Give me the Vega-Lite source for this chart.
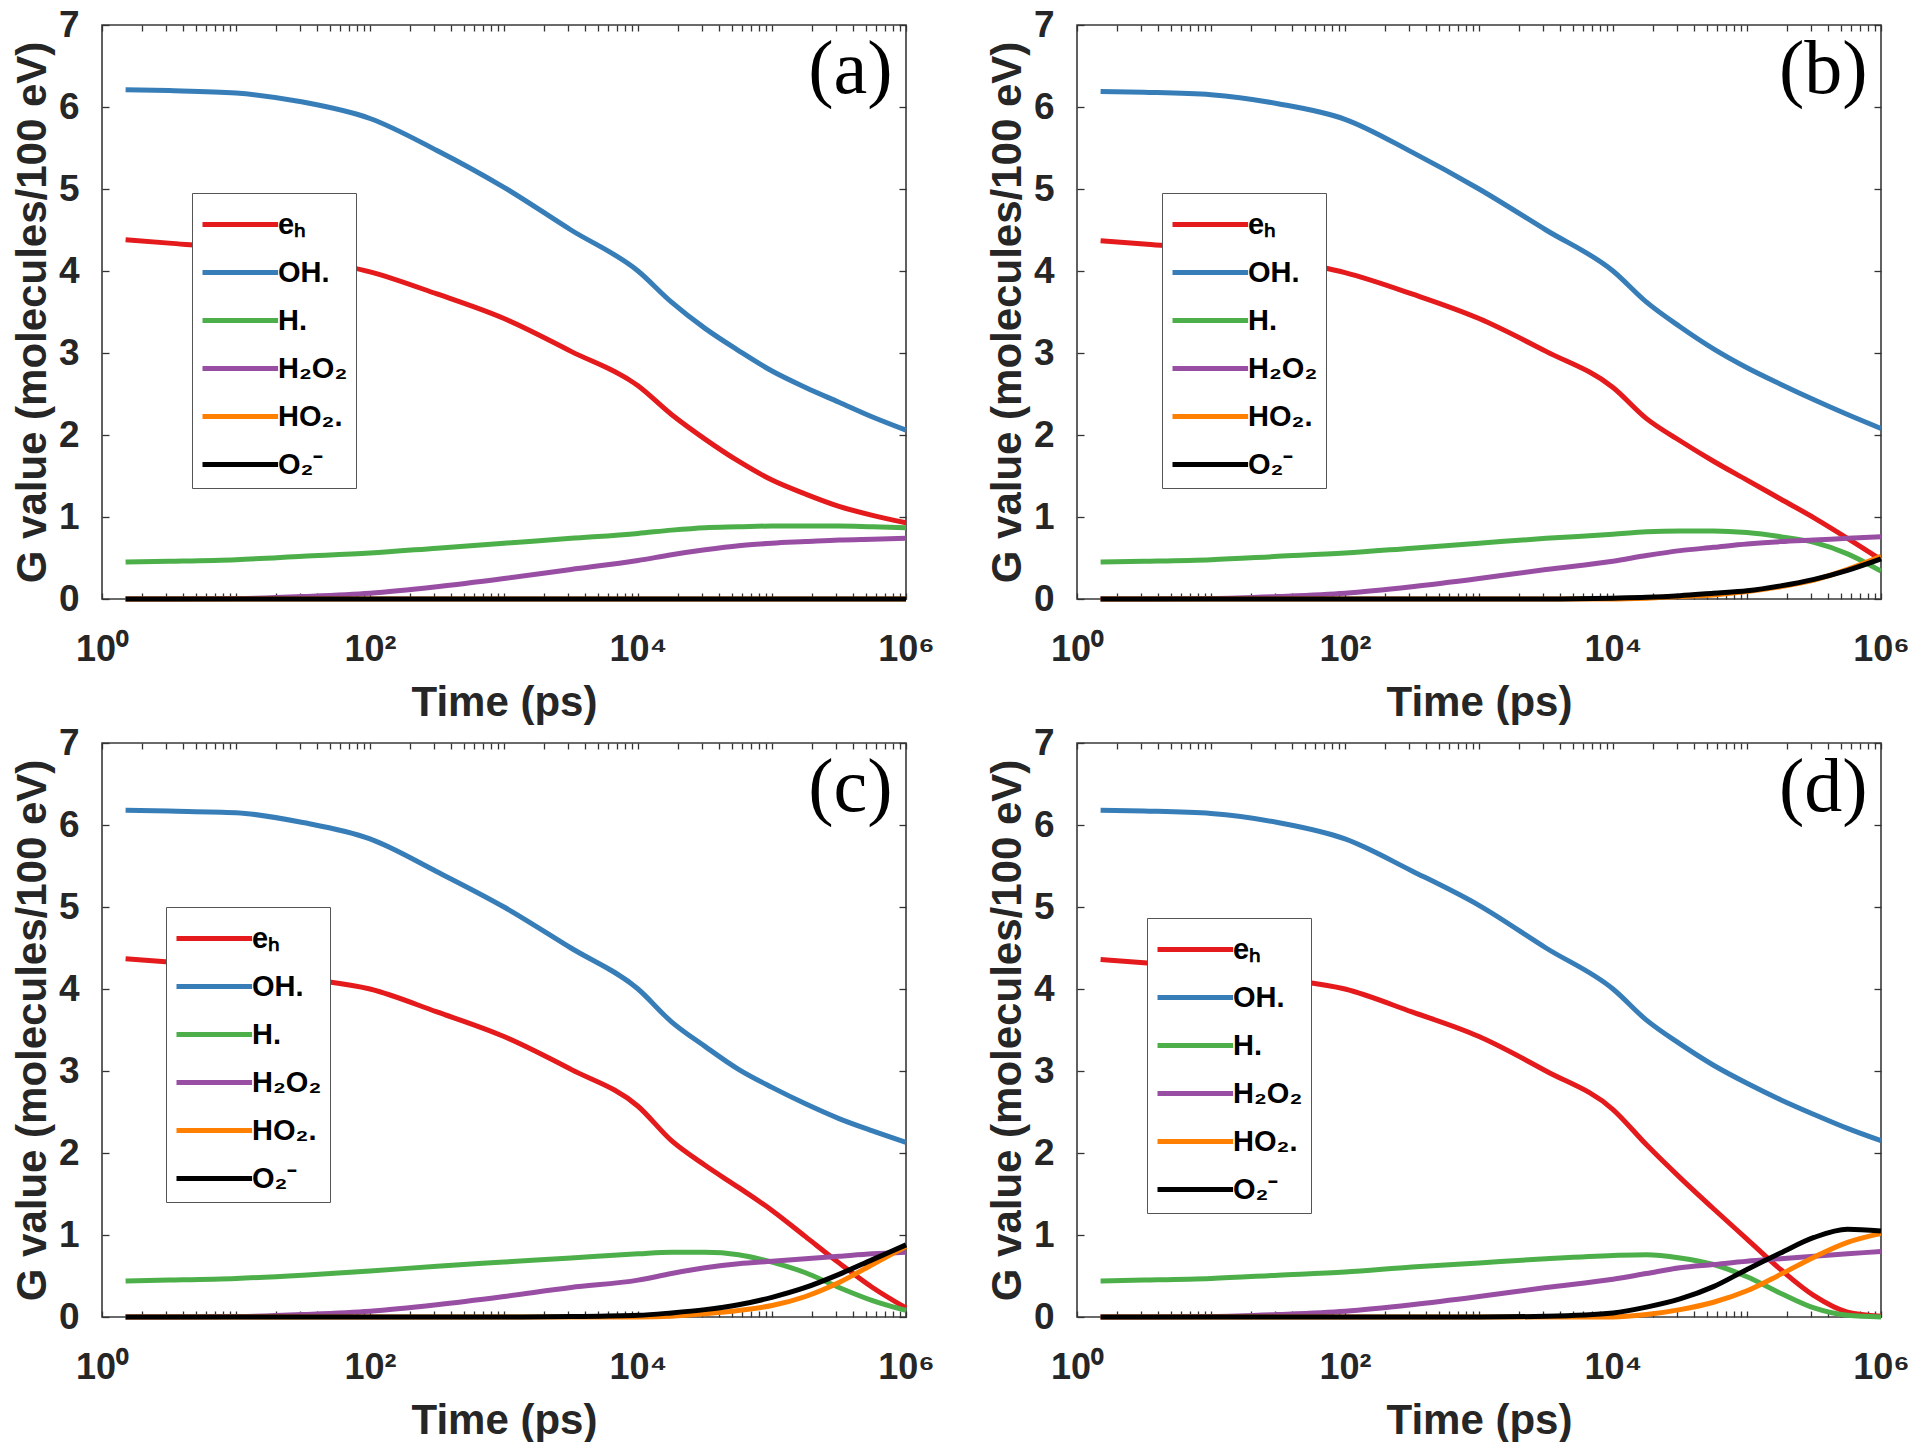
{
"$schema": "https://vega.github.io/schema/vega-lite/v6.json",
"background": "white",
"padding": {"left": 10, "top": 5, "right": 0, "bottom": 0},
"config": {"view": {"stroke": "#3a3a3a", "strokeWidth": 1.6}, "font": "Liberation Sans"},
"datasets": {"curves": [
{"p":"a","s":"eₕ","t":1.5,"g":4.38},{"p":"a","s":"eₕ","t":3.16,"g":4.34},{"p":"a","s":"eₕ","t":10,"g":4.27},{"p":"a","s":"eₕ","t":31.6,"g":4.15},{"p":"a","s":"eₕ","t":100,"g":3.99},{"p":"a","s":"eₕ","t":316,"g":3.72},{"p":"a","s":"eₕ","t":1000,"g":3.42},{"p":"a","s":"eₕ","t":3162,"g":3.02},{"p":"a","s":"eₕ","t":10000,"g":2.6},{"p":"a","s":"eₕ","t":17783,"g":2.25},{"p":"a","s":"eₕ","t":31623,"g":1.95},{"p":"a","s":"eₕ","t":56234,"g":1.68},{"p":"a","s":"eₕ","t":100000,"g":1.45},{"p":"a","s":"eₕ","t":177828,"g":1.28},{"p":"a","s":"eₕ","t":316228,"g":1.13},{"p":"a","s":"eₕ","t":562341,"g":1.02},{"p":"a","s":"eₕ","t":1000000,"g":0.93},
{"p":"a","s":"OH.","t":1.5,"g":6.21},{"p":"a","s":"OH.","t":3.16,"g":6.2},{"p":"a","s":"OH.","t":10,"g":6.17},{"p":"a","s":"OH.","t":31.6,"g":6.06},{"p":"a","s":"OH.","t":100,"g":5.86},{"p":"a","s":"OH.","t":316,"g":5.47},{"p":"a","s":"OH.","t":1000,"g":5.02},{"p":"a","s":"OH.","t":3162,"g":4.5},{"p":"a","s":"OH.","t":10000,"g":4.0},{"p":"a","s":"OH.","t":17783,"g":3.62},{"p":"a","s":"OH.","t":31623,"g":3.3},{"p":"a","s":"OH.","t":56234,"g":3.03},{"p":"a","s":"OH.","t":100000,"g":2.78},{"p":"a","s":"OH.","t":177828,"g":2.58},{"p":"a","s":"OH.","t":316228,"g":2.4},{"p":"a","s":"OH.","t":562341,"g":2.22},{"p":"a","s":"OH.","t":1000000,"g":2.06},
{"p":"a","s":"H.","t":1.5,"g":0.45},{"p":"a","s":"H.","t":3.16,"g":0.46},{"p":"a","s":"H.","t":10,"g":0.48},{"p":"a","s":"H.","t":31.6,"g":0.52},{"p":"a","s":"H.","t":100,"g":0.56},{"p":"a","s":"H.","t":316,"g":0.62},{"p":"a","s":"H.","t":1000,"g":0.68},{"p":"a","s":"H.","t":3162,"g":0.74},{"p":"a","s":"H.","t":10000,"g":0.8},{"p":"a","s":"H.","t":17783,"g":0.84},{"p":"a","s":"H.","t":31623,"g":0.87},{"p":"a","s":"H.","t":56234,"g":0.88},{"p":"a","s":"H.","t":100000,"g":0.89},{"p":"a","s":"H.","t":177828,"g":0.89},{"p":"a","s":"H.","t":316228,"g":0.89},{"p":"a","s":"H.","t":562341,"g":0.88},{"p":"a","s":"H.","t":1000000,"g":0.87},
{"p":"a","s":"H₂O₂","t":1.5,"g":0},{"p":"a","s":"H₂O₂","t":3.16,"g":0},{"p":"a","s":"H₂O₂","t":10,"g":0.005},{"p":"a","s":"H₂O₂","t":31.6,"g":0.03},{"p":"a","s":"H₂O₂","t":100,"g":0.07},{"p":"a","s":"H₂O₂","t":316,"g":0.15},{"p":"a","s":"H₂O₂","t":1000,"g":0.25},{"p":"a","s":"H₂O₂","t":3162,"g":0.36},{"p":"a","s":"H₂O₂","t":10000,"g":0.47},{"p":"a","s":"H₂O₂","t":17783,"g":0.54},{"p":"a","s":"H₂O₂","t":31623,"g":0.6},{"p":"a","s":"H₂O₂","t":56234,"g":0.65},{"p":"a","s":"H₂O₂","t":100000,"g":0.68},{"p":"a","s":"H₂O₂","t":177828,"g":0.7},{"p":"a","s":"H₂O₂","t":316228,"g":0.72},{"p":"a","s":"H₂O₂","t":562341,"g":0.73},{"p":"a","s":"H₂O₂","t":1000000,"g":0.74},
{"p":"a","s":"HO₂.","t":1.5,"g":0},{"p":"a","s":"HO₂.","t":1000,"g":0},{"p":"a","s":"HO₂.","t":1000000,"g":0},
{"p":"a","s":"O₂⁻","t":1.5,"g":0},{"p":"a","s":"O₂⁻","t":1000,"g":0},{"p":"a","s":"O₂⁻","t":1000000,"g":0},
{"p":"b","s":"eₕ","t":1.5,"g":4.37},{"p":"b","s":"eₕ","t":3.16,"g":4.33},{"p":"b","s":"eₕ","t":10,"g":4.26},{"p":"b","s":"eₕ","t":31.6,"g":4.14},{"p":"b","s":"eₕ","t":100,"g":3.98},{"p":"b","s":"eₕ","t":316,"g":3.72},{"p":"b","s":"eₕ","t":1000,"g":3.42},{"p":"b","s":"eₕ","t":3162,"g":3.02},{"p":"b","s":"eₕ","t":10000,"g":2.58},{"p":"b","s":"eₕ","t":17783,"g":2.2},{"p":"b","s":"eₕ","t":31623,"g":1.93},{"p":"b","s":"eₕ","t":56234,"g":1.68},{"p":"b","s":"eₕ","t":100000,"g":1.45},{"p":"b","s":"eₕ","t":177828,"g":1.22},{"p":"b","s":"eₕ","t":316228,"g":0.99},{"p":"b","s":"eₕ","t":562341,"g":0.74},{"p":"b","s":"eₕ","t":1000000,"g":0.48},
{"p":"b","s":"OH.","t":1.5,"g":6.19},{"p":"b","s":"OH.","t":3.16,"g":6.18},{"p":"b","s":"OH.","t":10,"g":6.15},{"p":"b","s":"OH.","t":31.6,"g":6.04},{"p":"b","s":"OH.","t":100,"g":5.85},{"p":"b","s":"OH.","t":316,"g":5.45},{"p":"b","s":"OH.","t":1000,"g":5.0},{"p":"b","s":"OH.","t":3162,"g":4.5},{"p":"b","s":"OH.","t":10000,"g":4.0},{"p":"b","s":"OH.","t":17783,"g":3.62},{"p":"b","s":"OH.","t":31623,"g":3.32},{"p":"b","s":"OH.","t":56234,"g":3.05},{"p":"b","s":"OH.","t":100000,"g":2.82},{"p":"b","s":"OH.","t":177828,"g":2.62},{"p":"b","s":"OH.","t":316228,"g":2.43},{"p":"b","s":"OH.","t":562341,"g":2.25},{"p":"b","s":"OH.","t":1000000,"g":2.08},
{"p":"b","s":"H.","t":1.5,"g":0.45},{"p":"b","s":"H.","t":3.16,"g":0.46},{"p":"b","s":"H.","t":10,"g":0.48},{"p":"b","s":"H.","t":31.6,"g":0.52},{"p":"b","s":"H.","t":100,"g":0.56},{"p":"b","s":"H.","t":316,"g":0.62},{"p":"b","s":"H.","t":1000,"g":0.68},{"p":"b","s":"H.","t":3162,"g":0.74},{"p":"b","s":"H.","t":10000,"g":0.79},{"p":"b","s":"H.","t":17783,"g":0.82},{"p":"b","s":"H.","t":31623,"g":0.83},{"p":"b","s":"H.","t":56234,"g":0.83},{"p":"b","s":"H.","t":100000,"g":0.81},{"p":"b","s":"H.","t":177828,"g":0.76},{"p":"b","s":"H.","t":316228,"g":0.69},{"p":"b","s":"H.","t":562341,"g":0.55},{"p":"b","s":"H.","t":1000000,"g":0.34},
{"p":"b","s":"H₂O₂","t":1.5,"g":0},{"p":"b","s":"H₂O₂","t":3.16,"g":0},{"p":"b","s":"H₂O₂","t":10,"g":0.005},{"p":"b","s":"H₂O₂","t":31.6,"g":0.03},{"p":"b","s":"H₂O₂","t":100,"g":0.07},{"p":"b","s":"H₂O₂","t":316,"g":0.15},{"p":"b","s":"H₂O₂","t":1000,"g":0.25},{"p":"b","s":"H₂O₂","t":3162,"g":0.36},{"p":"b","s":"H₂O₂","t":10000,"g":0.46},{"p":"b","s":"H₂O₂","t":17783,"g":0.53},{"p":"b","s":"H₂O₂","t":31623,"g":0.59},{"p":"b","s":"H₂O₂","t":56234,"g":0.63},{"p":"b","s":"H₂O₂","t":100000,"g":0.67},{"p":"b","s":"H₂O₂","t":177828,"g":0.7},{"p":"b","s":"H₂O₂","t":316228,"g":0.72},{"p":"b","s":"H₂O₂","t":562341,"g":0.74},{"p":"b","s":"H₂O₂","t":1000000,"g":0.76},
{"p":"b","s":"HO₂.","t":1.5,"g":0},{"p":"b","s":"HO₂.","t":1000,"g":0},{"p":"b","s":"HO₂.","t":10000,"g":0},{"p":"b","s":"HO₂.","t":17783,"g":0.01},{"p":"b","s":"HO₂.","t":31623,"g":0.03},{"p":"b","s":"HO₂.","t":56234,"g":0.05},{"p":"b","s":"HO₂.","t":100000,"g":0.09},{"p":"b","s":"HO₂.","t":177828,"g":0.15},{"p":"b","s":"HO₂.","t":316228,"g":0.23},{"p":"b","s":"HO₂.","t":562341,"g":0.36},{"p":"b","s":"HO₂.","t":1000000,"g":0.52},
{"p":"b","s":"O₂⁻","t":1.5,"g":0},{"p":"b","s":"O₂⁻","t":1000,"g":0},{"p":"b","s":"O₂⁻","t":3162,"g":0},{"p":"b","s":"O₂⁻","t":10000,"g":0.01},{"p":"b","s":"O₂⁻","t":17783,"g":0.02},{"p":"b","s":"O₂⁻","t":31623,"g":0.04},{"p":"b","s":"O₂⁻","t":56234,"g":0.07},{"p":"b","s":"O₂⁻","t":100000,"g":0.1},{"p":"b","s":"O₂⁻","t":177828,"g":0.16},{"p":"b","s":"O₂⁻","t":316228,"g":0.24},{"p":"b","s":"O₂⁻","t":562341,"g":0.35},{"p":"b","s":"O₂⁻","t":1000000,"g":0.49},
{"p":"c","s":"eₕ","t":1.5,"g":4.37},{"p":"c","s":"eₕ","t":3.16,"g":4.33},{"p":"c","s":"eₕ","t":10,"g":4.25},{"p":"c","s":"eₕ","t":31.6,"g":4.13},{"p":"c","s":"eₕ","t":100,"g":4.0},{"p":"c","s":"eₕ","t":316,"g":3.72},{"p":"c","s":"eₕ","t":1000,"g":3.42},{"p":"c","s":"eₕ","t":3162,"g":3.02},{"p":"c","s":"eₕ","t":10000,"g":2.57},{"p":"c","s":"eₕ","t":17783,"g":2.15},{"p":"c","s":"eₕ","t":31623,"g":1.85},{"p":"c","s":"eₕ","t":56234,"g":1.58},{"p":"c","s":"eₕ","t":100000,"g":1.3},{"p":"c","s":"eₕ","t":177828,"g":0.98},{"p":"c","s":"eₕ","t":316228,"g":0.66},{"p":"c","s":"eₕ","t":562341,"g":0.36},{"p":"c","s":"eₕ","t":1000000,"g":0.11},
{"p":"c","s":"OH.","t":1.5,"g":6.18},{"p":"c","s":"OH.","t":3.16,"g":6.17},{"p":"c","s":"OH.","t":10,"g":6.15},{"p":"c","s":"OH.","t":31.6,"g":6.03},{"p":"c","s":"OH.","t":100,"g":5.83},{"p":"c","s":"OH.","t":316,"g":5.43},{"p":"c","s":"OH.","t":1000,"g":5.0},{"p":"c","s":"OH.","t":3162,"g":4.5},{"p":"c","s":"OH.","t":10000,"g":4.0},{"p":"c","s":"OH.","t":17783,"g":3.6},{"p":"c","s":"OH.","t":31623,"g":3.3},{"p":"c","s":"OH.","t":56234,"g":3.02},{"p":"c","s":"OH.","t":100000,"g":2.8},{"p":"c","s":"OH.","t":177828,"g":2.6},{"p":"c","s":"OH.","t":316228,"g":2.42},{"p":"c","s":"OH.","t":562341,"g":2.27},{"p":"c","s":"OH.","t":1000000,"g":2.13},
{"p":"c","s":"H.","t":1.5,"g":0.44},{"p":"c","s":"H.","t":3.16,"g":0.45},{"p":"c","s":"H.","t":10,"g":0.47},{"p":"c","s":"H.","t":31.6,"g":0.51},{"p":"c","s":"H.","t":100,"g":0.56},{"p":"c","s":"H.","t":316,"g":0.62},{"p":"c","s":"H.","t":1000,"g":0.67},{"p":"c","s":"H.","t":3162,"g":0.72},{"p":"c","s":"H.","t":10000,"g":0.77},{"p":"c","s":"H.","t":17783,"g":0.79},{"p":"c","s":"H.","t":31623,"g":0.79},{"p":"c","s":"H.","t":56234,"g":0.76},{"p":"c","s":"H.","t":100000,"g":0.67},{"p":"c","s":"H.","t":177828,"g":0.54},{"p":"c","s":"H.","t":316228,"g":0.36},{"p":"c","s":"H.","t":562341,"g":0.2},{"p":"c","s":"H.","t":1000000,"g":0.08},
{"p":"c","s":"H₂O₂","t":1.5,"g":0},{"p":"c","s":"H₂O₂","t":3.16,"g":0},{"p":"c","s":"H₂O₂","t":10,"g":0.005},{"p":"c","s":"H₂O₂","t":31.6,"g":0.03},{"p":"c","s":"H₂O₂","t":100,"g":0.07},{"p":"c","s":"H₂O₂","t":316,"g":0.15},{"p":"c","s":"H₂O₂","t":1000,"g":0.25},{"p":"c","s":"H₂O₂","t":3162,"g":0.36},{"p":"c","s":"H₂O₂","t":10000,"g":0.45},{"p":"c","s":"H₂O₂","t":17783,"g":0.53},{"p":"c","s":"H₂O₂","t":31623,"g":0.6},{"p":"c","s":"H₂O₂","t":56234,"g":0.65},{"p":"c","s":"H₂O₂","t":100000,"g":0.68},{"p":"c","s":"H₂O₂","t":177828,"g":0.71},{"p":"c","s":"H₂O₂","t":316228,"g":0.74},{"p":"c","s":"H₂O₂","t":562341,"g":0.77},{"p":"c","s":"H₂O₂","t":1000000,"g":0.79},
{"p":"c","s":"HO₂.","t":1.5,"g":0},{"p":"c","s":"HO₂.","t":1000,"g":0},{"p":"c","s":"HO₂.","t":10000,"g":0},{"p":"c","s":"HO₂.","t":17783,"g":0.01},{"p":"c","s":"HO₂.","t":31623,"g":0.04},{"p":"c","s":"HO₂.","t":56234,"g":0.08},{"p":"c","s":"HO₂.","t":100000,"g":0.14},{"p":"c","s":"HO₂.","t":177828,"g":0.25},{"p":"c","s":"HO₂.","t":316228,"g":0.42},{"p":"c","s":"HO₂.","t":562341,"g":0.64},{"p":"c","s":"HO₂.","t":1000000,"g":0.86},
{"p":"c","s":"O₂⁻","t":1.5,"g":0},{"p":"c","s":"O₂⁻","t":1000,"g":0},{"p":"c","s":"O₂⁻","t":3162,"g":0.005},{"p":"c","s":"O₂⁻","t":10000,"g":0.02},{"p":"c","s":"O₂⁻","t":17783,"g":0.05},{"p":"c","s":"O₂⁻","t":31623,"g":0.09},{"p":"c","s":"O₂⁻","t":56234,"g":0.15},{"p":"c","s":"O₂⁻","t":100000,"g":0.24},{"p":"c","s":"O₂⁻","t":177828,"g":0.36},{"p":"c","s":"O₂⁻","t":316228,"g":0.52},{"p":"c","s":"O₂⁻","t":562341,"g":0.7},{"p":"c","s":"O₂⁻","t":1000000,"g":0.88},
{"p":"d","s":"eₕ","t":1.5,"g":4.36},{"p":"d","s":"eₕ","t":3.16,"g":4.32},{"p":"d","s":"eₕ","t":10,"g":4.25},{"p":"d","s":"eₕ","t":31.6,"g":4.13},{"p":"d","s":"eₕ","t":100,"g":4.0},{"p":"d","s":"eₕ","t":316,"g":3.72},{"p":"d","s":"eₕ","t":1000,"g":3.42},{"p":"d","s":"eₕ","t":3162,"g":3.0},{"p":"d","s":"eₕ","t":10000,"g":2.53},{"p":"d","s":"eₕ","t":17783,"g":2.1},{"p":"d","s":"eₕ","t":31623,"g":1.7},{"p":"d","s":"eₕ","t":56234,"g":1.32},{"p":"d","s":"eₕ","t":100000,"g":0.95},{"p":"d","s":"eₕ","t":177828,"g":0.58},{"p":"d","s":"eₕ","t":316228,"g":0.26},{"p":"d","s":"eₕ","t":562341,"g":0.06},{"p":"d","s":"eₕ","t":1000000,"g":0.01},
{"p":"d","s":"OH.","t":1.5,"g":6.18},{"p":"d","s":"OH.","t":3.16,"g":6.17},{"p":"d","s":"OH.","t":10,"g":6.14},{"p":"d","s":"OH.","t":31.6,"g":6.03},{"p":"d","s":"OH.","t":100,"g":5.83},{"p":"d","s":"OH.","t":316,"g":5.44},{"p":"d","s":"OH.","t":1000,"g":5.02},{"p":"d","s":"OH.","t":3162,"g":4.5},{"p":"d","s":"OH.","t":10000,"g":4.0},{"p":"d","s":"OH.","t":17783,"g":3.62},{"p":"d","s":"OH.","t":31623,"g":3.33},{"p":"d","s":"OH.","t":56234,"g":3.07},{"p":"d","s":"OH.","t":100000,"g":2.85},{"p":"d","s":"OH.","t":177828,"g":2.65},{"p":"d","s":"OH.","t":316228,"g":2.47},{"p":"d","s":"OH.","t":562341,"g":2.3},{"p":"d","s":"OH.","t":1000000,"g":2.15},
{"p":"d","s":"H.","t":1.5,"g":0.44},{"p":"d","s":"H.","t":3.16,"g":0.45},{"p":"d","s":"H.","t":10,"g":0.47},{"p":"d","s":"H.","t":31.6,"g":0.51},{"p":"d","s":"H.","t":100,"g":0.55},{"p":"d","s":"H.","t":316,"g":0.61},{"p":"d","s":"H.","t":1000,"g":0.66},{"p":"d","s":"H.","t":3162,"g":0.71},{"p":"d","s":"H.","t":10000,"g":0.75},{"p":"d","s":"H.","t":17783,"g":0.76},{"p":"d","s":"H.","t":31623,"g":0.72},{"p":"d","s":"H.","t":56234,"g":0.64},{"p":"d","s":"H.","t":100000,"g":0.49},{"p":"d","s":"H.","t":177828,"g":0.29},{"p":"d","s":"H.","t":316228,"g":0.11},{"p":"d","s":"H.","t":562341,"g":0.02},{"p":"d","s":"H.","t":1000000,"g":0.0},
{"p":"d","s":"H₂O₂","t":1.5,"g":0},{"p":"d","s":"H₂O₂","t":3.16,"g":0},{"p":"d","s":"H₂O₂","t":10,"g":0.005},{"p":"d","s":"H₂O₂","t":31.6,"g":0.03},{"p":"d","s":"H₂O₂","t":100,"g":0.07},{"p":"d","s":"H₂O₂","t":316,"g":0.15},{"p":"d","s":"H₂O₂","t":1000,"g":0.25},{"p":"d","s":"H₂O₂","t":3162,"g":0.36},{"p":"d","s":"H₂O₂","t":10000,"g":0.46},{"p":"d","s":"H₂O₂","t":17783,"g":0.53},{"p":"d","s":"H₂O₂","t":31623,"g":0.6},{"p":"d","s":"H₂O₂","t":56234,"g":0.64},{"p":"d","s":"H₂O₂","t":100000,"g":0.68},{"p":"d","s":"H₂O₂","t":177828,"g":0.71},{"p":"d","s":"H₂O₂","t":316228,"g":0.74},{"p":"d","s":"H₂O₂","t":562341,"g":0.77},{"p":"d","s":"H₂O₂","t":1000000,"g":0.8},
{"p":"d","s":"HO₂.","t":1.5,"g":0},{"p":"d","s":"HO₂.","t":1000,"g":0},{"p":"d","s":"HO₂.","t":10000,"g":0},{"p":"d","s":"HO₂.","t":17783,"g":0.03},{"p":"d","s":"HO₂.","t":31623,"g":0.09},{"p":"d","s":"HO₂.","t":56234,"g":0.18},{"p":"d","s":"HO₂.","t":100000,"g":0.32},{"p":"d","s":"HO₂.","t":177828,"g":0.52},{"p":"d","s":"HO₂.","t":316228,"g":0.73},{"p":"d","s":"HO₂.","t":562341,"g":0.91},{"p":"d","s":"HO₂.","t":1000000,"g":1.02},
{"p":"d","s":"O₂⁻","t":1.5,"g":0},{"p":"d","s":"O₂⁻","t":1000,"g":0},{"p":"d","s":"O₂⁻","t":3162,"g":0.01},{"p":"d","s":"O₂⁻","t":10000,"g":0.05},{"p":"d","s":"O₂⁻","t":17783,"g":0.12},{"p":"d","s":"O₂⁻","t":31623,"g":0.22},{"p":"d","s":"O₂⁻","t":56234,"g":0.37},{"p":"d","s":"O₂⁻","t":100000,"g":0.58},{"p":"d","s":"O₂⁻","t":177828,"g":0.78},{"p":"d","s":"O₂⁻","t":316228,"g":0.97},{"p":"d","s":"O₂⁻","t":562341,"g":1.07},{"p":"d","s":"O₂⁻","t":1000000,"g":1.05}
]},
"columns": 2,
"spacing": {"row": 144, "column": 171},
"bounds": "flush",
"resolve": {"scale": {"color": "independent"}},
"concat": [
{"width": 804, "height": 574, "data": {"name": "curves"},
 "layer": [
  {"transform": [{"filter": "datum.p == 'a'"}],
   "mark": {"type": "line", "strokeWidth": 5, "interpolate": "monotone"},
   "encoding": {
    "x": {"field": "t", "type": "quantitative", "scale": {"type": "log", "domain": [1, 1000000], "nice": false},
      "axis": {"orient": "bottom", "values": [1,2,3,4,5,6,7,8,9,10,20,30,40,50,60,70,80,90,100,200,300,400,500,600,700,800,900,1000,2000,3000,4000,5000,6000,7000,8000,9000,10000,20000,30000,40000,50000,60000,70000,80000,90000,100000,200000,300000,400000,500000,600000,700000,800000,900000,1000000],
       "labelExpr": "datum.value == 1 ? '10⁰' : datum.value == 100 ? '10²' : datum.value == 10000 ? '10⁴' : datum.value == 1000000 ? '10⁶' : ''",
       "labelFontSize": 36, "labelFontWeight": "bold", "labelColor": "#262626", "labelPadding": 39, "labelFlush": false, "labelOverlap": false, "labelBound": false,
       "tickSize": -6, "tickColor": "#333333", "tickWidth": 1.3, "domain": false, "grid": false,
       "title": "Time (ps)", "titleFontSize": 42, "titleFontWeight": "bold", "titleColor": "#262626", "titlePadding": 23, "minExtent": 60, "maxExtent": 60}},
    "y": {"field": "g", "type": "quantitative", "scale": {"domain": [0, 7], "nice": false},
      "axis": {"orient": "left", "values": [0,1,2,3,4,5,6,7], "format": "d", "labelFontSize": 37, "labelFontWeight": "bold", "labelColor": "#262626", "labelPadding": 30,
       "tickSize": -7, "tickColor": "#333333", "tickWidth": 1.3, "domain": false, "grid": false,
       "title": "G value (molecules/100 eV)", "titleFontSize": 42, "titleFontWeight": "bold", "titleColor": "#262626", "titlePadding": 11, "minExtent": 37, "maxExtent": 37}},
    "color": {"field": "s", "type": "nominal",
      "scale": {"domain": ["eₕ","OH.","H.","H₂O₂","HO₂.","O₂⁻"], "range": ["#e41a1c","#377eb8","#4daf4a","#984ea3","#ff7f00","#000000"]},
      "legend": {"orient": "none", "legendX": 90, "legendY": 168, "title": null, "symbolType": "M-1,0H2.6", "symbolSize": 1764, "symbolStrokeWidth": 5, "rowPadding": 9, "labelOffset": 31, "labelFontSize": 29, "labelFontWeight": "bold", "labelColor": "black", "padding": 8, "strokeColor": "#555555", "fillColor": "white", "labelLimit": 0}}
   }},
  {"mark": {"type": "point", "opacity": 0},
   "encoding": {
    "x": {"field": "t", "type": "quantitative", "scale": {"type": "log", "domain": [1, 1000000], "nice": false},
      "axis": {"orient": "top", "values": [1,2,3,4,5,6,7,8,9,10,20,30,40,50,60,70,80,90,100,200,300,400,500,600,700,800,900,1000,2000,3000,4000,5000,6000,7000,8000,9000,10000,20000,30000,40000,50000,60000,70000,80000,90000,100000,200000,300000,400000,500000,600000,700000,800000,900000,1000000], "labels": false, "tickSize": -6, "tickColor": "#333333", "tickWidth": 1.3, "domain": false, "grid": false, "title": null}},
    "y": {"field": "g", "type": "quantitative", "scale": {"domain": [0, 7], "nice": false},
      "axis": {"orient": "right", "values": [0,1,2,3,4,5,6,7], "labels": false, "tickSize": -7, "tickColor": "#333333", "tickWidth": 1.3, "domain": false, "grid": false, "title": null}}
   }},
  {"data": {"values": [{"lab": "(a)"}]},
   "mark": {"type": "text", "font": "Liberation Serif", "fontSize": 76, "align": "right", "baseline": "alphabetic", "color": "black"},
   "encoding": {
    "x": {"datum": 794328, "type": "quantitative", "scale": {"type": "log", "domain": [1, 1000000], "nice": false}, "axis": null},
    "y": {"datum": 6.17, "type": "quantitative", "scale": {"domain": [0, 7], "nice": false}, "axis": null},
    "text": {"field": "lab"}}}
 ],
 "resolve": {"axis": {"x": "independent", "y": "independent"}}},
{"width": 804, "height": 574, "data": {"name": "curves"},
 "layer": [
  {"transform": [{"filter": "datum.p == 'b'"}],
   "mark": {"type": "line", "strokeWidth": 5, "interpolate": "monotone"},
   "encoding": {
    "x": {"field": "t", "type": "quantitative", "scale": {"type": "log", "domain": [1, 1000000], "nice": false},
      "axis": {"orient": "bottom", "values": [1,2,3,4,5,6,7,8,9,10,20,30,40,50,60,70,80,90,100,200,300,400,500,600,700,800,900,1000,2000,3000,4000,5000,6000,7000,8000,9000,10000,20000,30000,40000,50000,60000,70000,80000,90000,100000,200000,300000,400000,500000,600000,700000,800000,900000,1000000],
       "labelExpr": "datum.value == 1 ? '10⁰' : datum.value == 100 ? '10²' : datum.value == 10000 ? '10⁴' : datum.value == 1000000 ? '10⁶' : ''",
       "labelFontSize": 36, "labelFontWeight": "bold", "labelColor": "#262626", "labelPadding": 39, "labelFlush": false, "labelOverlap": false, "labelBound": false,
       "tickSize": -6, "tickColor": "#333333", "tickWidth": 1.3, "domain": false, "grid": false,
       "title": "Time (ps)", "titleFontSize": 42, "titleFontWeight": "bold", "titleColor": "#262626", "titlePadding": 23, "minExtent": 60, "maxExtent": 60}},
    "y": {"field": "g", "type": "quantitative", "scale": {"domain": [0, 7], "nice": false},
      "axis": {"orient": "left", "values": [0,1,2,3,4,5,6,7], "format": "d", "labelFontSize": 37, "labelFontWeight": "bold", "labelColor": "#262626", "labelPadding": 30,
       "tickSize": -7, "tickColor": "#333333", "tickWidth": 1.3, "domain": false, "grid": false,
       "title": "G value (molecules/100 eV)", "titleFontSize": 42, "titleFontWeight": "bold", "titleColor": "#262626", "titlePadding": 11, "minExtent": 37, "maxExtent": 37}},
    "color": {"field": "s", "type": "nominal",
      "scale": {"domain": ["eₕ","OH.","H.","H₂O₂","HO₂.","O₂⁻"], "range": ["#e41a1c","#377eb8","#4daf4a","#984ea3","#ff7f00","#000000"]},
      "legend": {"orient": "none", "legendX": 85, "legendY": 168, "title": null, "symbolType": "M-1,0H2.6", "symbolSize": 1764, "symbolStrokeWidth": 5, "rowPadding": 9, "labelOffset": 31, "labelFontSize": 29, "labelFontWeight": "bold", "labelColor": "black", "padding": 8, "strokeColor": "#555555", "fillColor": "white", "labelLimit": 0}}
   }},
  {"mark": {"type": "point", "opacity": 0},
   "encoding": {
    "x": {"field": "t", "type": "quantitative", "scale": {"type": "log", "domain": [1, 1000000], "nice": false},
      "axis": {"orient": "top", "values": [1,2,3,4,5,6,7,8,9,10,20,30,40,50,60,70,80,90,100,200,300,400,500,600,700,800,900,1000,2000,3000,4000,5000,6000,7000,8000,9000,10000,20000,30000,40000,50000,60000,70000,80000,90000,100000,200000,300000,400000,500000,600000,700000,800000,900000,1000000], "labels": false, "tickSize": -6, "tickColor": "#333333", "tickWidth": 1.3, "domain": false, "grid": false, "title": null}},
    "y": {"field": "g", "type": "quantitative", "scale": {"domain": [0, 7], "nice": false},
      "axis": {"orient": "right", "values": [0,1,2,3,4,5,6,7], "labels": false, "tickSize": -7, "tickColor": "#333333", "tickWidth": 1.3, "domain": false, "grid": false, "title": null}}
   }},
  {"data": {"values": [{"lab": "(b)"}]},
   "mark": {"type": "text", "font": "Liberation Serif", "fontSize": 76, "align": "right", "baseline": "alphabetic", "color": "black"},
   "encoding": {
    "x": {"datum": 794328, "type": "quantitative", "scale": {"type": "log", "domain": [1, 1000000], "nice": false}, "axis": null},
    "y": {"datum": 6.17, "type": "quantitative", "scale": {"domain": [0, 7], "nice": false}, "axis": null},
    "text": {"field": "lab"}}}
 ],
 "resolve": {"axis": {"x": "independent", "y": "independent"}}},
{"width": 804, "height": 574, "data": {"name": "curves"},
 "layer": [
  {"transform": [{"filter": "datum.p == 'c'"}],
   "mark": {"type": "line", "strokeWidth": 5, "interpolate": "monotone"},
   "encoding": {
    "x": {"field": "t", "type": "quantitative", "scale": {"type": "log", "domain": [1, 1000000], "nice": false},
      "axis": {"orient": "bottom", "values": [1,2,3,4,5,6,7,8,9,10,20,30,40,50,60,70,80,90,100,200,300,400,500,600,700,800,900,1000,2000,3000,4000,5000,6000,7000,8000,9000,10000,20000,30000,40000,50000,60000,70000,80000,90000,100000,200000,300000,400000,500000,600000,700000,800000,900000,1000000],
       "labelExpr": "datum.value == 1 ? '10⁰' : datum.value == 100 ? '10²' : datum.value == 10000 ? '10⁴' : datum.value == 1000000 ? '10⁶' : ''",
       "labelFontSize": 36, "labelFontWeight": "bold", "labelColor": "#262626", "labelPadding": 39, "labelFlush": false, "labelOverlap": false, "labelBound": false,
       "tickSize": -6, "tickColor": "#333333", "tickWidth": 1.3, "domain": false, "grid": false,
       "title": "Time (ps)", "titleFontSize": 42, "titleFontWeight": "bold", "titleColor": "#262626", "titlePadding": 23, "minExtent": 60, "maxExtent": 60}},
    "y": {"field": "g", "type": "quantitative", "scale": {"domain": [0, 7], "nice": false},
      "axis": {"orient": "left", "values": [0,1,2,3,4,5,6,7], "format": "d", "labelFontSize": 37, "labelFontWeight": "bold", "labelColor": "#262626", "labelPadding": 30,
       "tickSize": -7, "tickColor": "#333333", "tickWidth": 1.3, "domain": false, "grid": false,
       "title": "G value (molecules/100 eV)", "titleFontSize": 42, "titleFontWeight": "bold", "titleColor": "#262626", "titlePadding": 11, "minExtent": 37, "maxExtent": 37}},
    "color": {"field": "s", "type": "nominal",
      "scale": {"domain": ["eₕ","OH.","H.","H₂O₂","HO₂.","O₂⁻"], "range": ["#e41a1c","#377eb8","#4daf4a","#984ea3","#ff7f00","#000000"]},
      "legend": {"orient": "none", "legendX": 64, "legendY": 164, "title": null, "symbolType": "M-1,0H2.6", "symbolSize": 1764, "symbolStrokeWidth": 5, "rowPadding": 9, "labelOffset": 31, "labelFontSize": 29, "labelFontWeight": "bold", "labelColor": "black", "padding": 8, "strokeColor": "#555555", "fillColor": "white", "labelLimit": 0}}
   }},
  {"mark": {"type": "point", "opacity": 0},
   "encoding": {
    "x": {"field": "t", "type": "quantitative", "scale": {"type": "log", "domain": [1, 1000000], "nice": false},
      "axis": {"orient": "top", "values": [1,2,3,4,5,6,7,8,9,10,20,30,40,50,60,70,80,90,100,200,300,400,500,600,700,800,900,1000,2000,3000,4000,5000,6000,7000,8000,9000,10000,20000,30000,40000,50000,60000,70000,80000,90000,100000,200000,300000,400000,500000,600000,700000,800000,900000,1000000], "labels": false, "tickSize": -6, "tickColor": "#333333", "tickWidth": 1.3, "domain": false, "grid": false, "title": null}},
    "y": {"field": "g", "type": "quantitative", "scale": {"domain": [0, 7], "nice": false},
      "axis": {"orient": "right", "values": [0,1,2,3,4,5,6,7], "labels": false, "tickSize": -7, "tickColor": "#333333", "tickWidth": 1.3, "domain": false, "grid": false, "title": null}}
   }},
  {"data": {"values": [{"lab": "(c)"}]},
   "mark": {"type": "text", "font": "Liberation Serif", "fontSize": 76, "align": "right", "baseline": "alphabetic", "color": "black"},
   "encoding": {
    "x": {"datum": 794328, "type": "quantitative", "scale": {"type": "log", "domain": [1, 1000000], "nice": false}, "axis": null},
    "y": {"datum": 6.17, "type": "quantitative", "scale": {"domain": [0, 7], "nice": false}, "axis": null},
    "text": {"field": "lab"}}}
 ],
 "resolve": {"axis": {"x": "independent", "y": "independent"}}},
{"width": 804, "height": 574, "data": {"name": "curves"},
 "layer": [
  {"transform": [{"filter": "datum.p == 'd'"}],
   "mark": {"type": "line", "strokeWidth": 5, "interpolate": "monotone"},
   "encoding": {
    "x": {"field": "t", "type": "quantitative", "scale": {"type": "log", "domain": [1, 1000000], "nice": false},
      "axis": {"orient": "bottom", "values": [1,2,3,4,5,6,7,8,9,10,20,30,40,50,60,70,80,90,100,200,300,400,500,600,700,800,900,1000,2000,3000,4000,5000,6000,7000,8000,9000,10000,20000,30000,40000,50000,60000,70000,80000,90000,100000,200000,300000,400000,500000,600000,700000,800000,900000,1000000],
       "labelExpr": "datum.value == 1 ? '10⁰' : datum.value == 100 ? '10²' : datum.value == 10000 ? '10⁴' : datum.value == 1000000 ? '10⁶' : ''",
       "labelFontSize": 36, "labelFontWeight": "bold", "labelColor": "#262626", "labelPadding": 39, "labelFlush": false, "labelOverlap": false, "labelBound": false,
       "tickSize": -6, "tickColor": "#333333", "tickWidth": 1.3, "domain": false, "grid": false,
       "title": "Time (ps)", "titleFontSize": 42, "titleFontWeight": "bold", "titleColor": "#262626", "titlePadding": 23, "minExtent": 60, "maxExtent": 60}},
    "y": {"field": "g", "type": "quantitative", "scale": {"domain": [0, 7], "nice": false},
      "axis": {"orient": "left", "values": [0,1,2,3,4,5,6,7], "format": "d", "labelFontSize": 37, "labelFontWeight": "bold", "labelColor": "#262626", "labelPadding": 30,
       "tickSize": -7, "tickColor": "#333333", "tickWidth": 1.3, "domain": false, "grid": false,
       "title": "G value (molecules/100 eV)", "titleFontSize": 42, "titleFontWeight": "bold", "titleColor": "#262626", "titlePadding": 11, "minExtent": 37, "maxExtent": 37}},
    "color": {"field": "s", "type": "nominal",
      "scale": {"domain": ["eₕ","OH.","H.","H₂O₂","HO₂.","O₂⁻"], "range": ["#e41a1c","#377eb8","#4daf4a","#984ea3","#ff7f00","#000000"]},
      "legend": {"orient": "none", "legendX": 70, "legendY": 175, "title": null, "symbolType": "M-1,0H2.6", "symbolSize": 1764, "symbolStrokeWidth": 5, "rowPadding": 9, "labelOffset": 31, "labelFontSize": 29, "labelFontWeight": "bold", "labelColor": "black", "padding": 8, "strokeColor": "#555555", "fillColor": "white", "labelLimit": 0}}
   }},
  {"mark": {"type": "point", "opacity": 0},
   "encoding": {
    "x": {"field": "t", "type": "quantitative", "scale": {"type": "log", "domain": [1, 1000000], "nice": false},
      "axis": {"orient": "top", "values": [1,2,3,4,5,6,7,8,9,10,20,30,40,50,60,70,80,90,100,200,300,400,500,600,700,800,900,1000,2000,3000,4000,5000,6000,7000,8000,9000,10000,20000,30000,40000,50000,60000,70000,80000,90000,100000,200000,300000,400000,500000,600000,700000,800000,900000,1000000], "labels": false, "tickSize": -6, "tickColor": "#333333", "tickWidth": 1.3, "domain": false, "grid": false, "title": null}},
    "y": {"field": "g", "type": "quantitative", "scale": {"domain": [0, 7], "nice": false},
      "axis": {"orient": "right", "values": [0,1,2,3,4,5,6,7], "labels": false, "tickSize": -7, "tickColor": "#333333", "tickWidth": 1.3, "domain": false, "grid": false, "title": null}}
   }},
  {"data": {"values": [{"lab": "(d)"}]},
   "mark": {"type": "text", "font": "Liberation Serif", "fontSize": 76, "align": "right", "baseline": "alphabetic", "color": "black"},
   "encoding": {
    "x": {"datum": 794328, "type": "quantitative", "scale": {"type": "log", "domain": [1, 1000000], "nice": false}, "axis": null},
    "y": {"datum": 6.17, "type": "quantitative", "scale": {"domain": [0, 7], "nice": false}, "axis": null},
    "text": {"field": "lab"}}}
 ],
 "resolve": {"axis": {"x": "independent", "y": "independent"}}}
]
}
